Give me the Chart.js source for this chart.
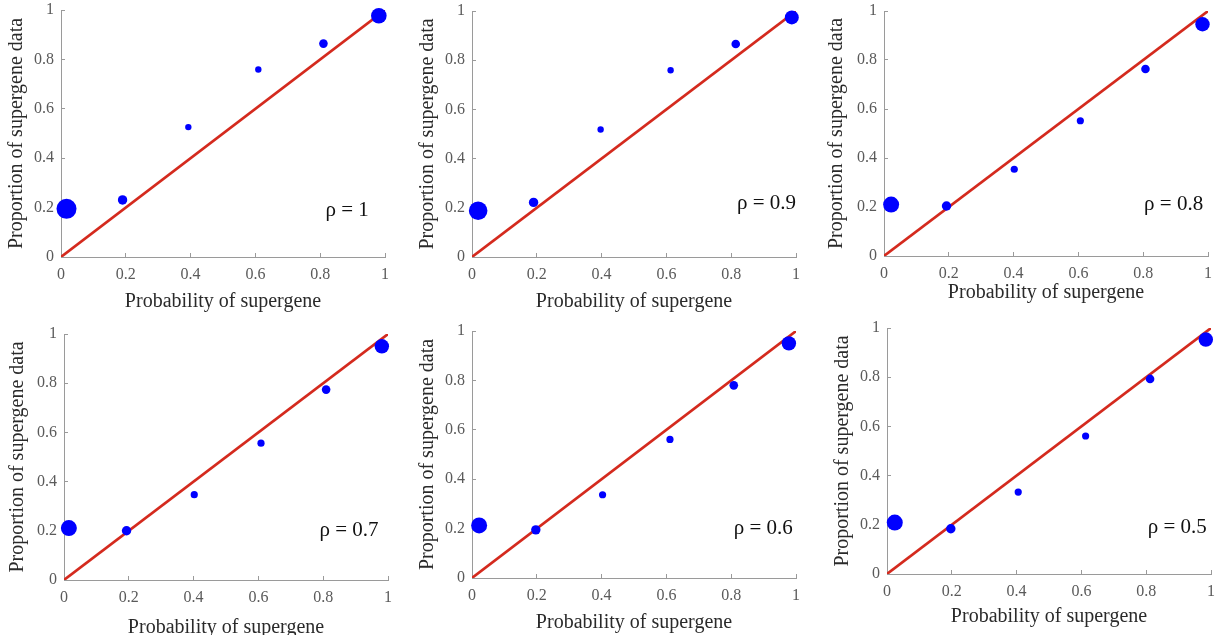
<!DOCTYPE html>
<html>
<head>
<meta charset="utf-8">
<script src="https://cdn.jsdelivr.net/npm/chart.js@4.4.0/dist/chart.umd.min.js"></script>
<style>
html, body { margin: 0; padding: 0; background: #fff; width: 1225px; height: 635px; overflow: hidden; position: relative; }
canvas { position: absolute; }
</style>
</head>
<body>
<script>
// shared tick marks on both axes
const tickValues = [0, 0.2, 0.4, 0.6, 0.8, 1];
const tickLabels = ['0', '0.2', '0.4', '0.6', '0.8', '1'];
const rhoLabels = ['ρ = 1', 'ρ = 0.9', 'ρ = 0.8', 'ρ = 0.7', 'ρ = 0.6', 'ρ = 0.5'];

// diagonal y = x
const diagX = [0, 1];
const diagY = [0, 1];

// probability of supergene (x) vs proportion of supergene data (y)
const prob1 = [0.017, 0.19, 0.393, 0.609, 0.81, 0.981];
const prop1 = [0.195, 0.231, 0.526, 0.759, 0.864, 0.977];
const prob2 = [0.019, 0.19, 0.397, 0.613, 0.814, 0.987];
const prop2 = [0.188, 0.222, 0.518, 0.759, 0.866, 0.974];
const prob3 = [0.022, 0.193, 0.402, 0.606, 0.807, 0.983];
const prop3 = [0.21, 0.204, 0.354, 0.552, 0.763, 0.946];
const prob4 = [0.015, 0.193, 0.402, 0.608, 0.809, 0.981];
const prop4 = [0.211, 0.2, 0.347, 0.556, 0.774, 0.95];
const prob5 = [0.022, 0.197, 0.403, 0.611, 0.808, 0.978];
const prop5 = [0.213, 0.195, 0.337, 0.561, 0.78, 0.95];
const prob6 = [0.024, 0.197, 0.405, 0.613, 0.812, 0.984];
const prop6 = [0.209, 0.184, 0.333, 0.561, 0.793, 0.953];

// marker radius per point
const radius1 = [10, 4.7, 3.2, 3.2, 4.3, 7.8];
const radius2 = [9.3, 4.7, 3.2, 3.2, 4.3, 7];
const radius3 = [8, 4.7, 3.6, 3.6, 4.3, 7.2];
const radius4 = [8, 4.7, 3.6, 3.6, 4.3, 7.2];
const radius5 = [8, 4.7, 3.6, 3.6, 4.3, 7.2];
const radius6 = [8, 4.7, 3.6, 3.6, 4.3, 7.2];

const allProb = [prob1, prob2, prob3, prob4, prob5, prob6];
const allProp = [prop1, prop2, prop3, prop4, prop5, prop6];
const allRadius = [radius1, radius2, radius3, radius4, radius5, radius6];

// where each plot area sits on the page, and title offsets from the axes
const panels = [
    { left: 61, top: 10, right: 385, bottom: 257, yOff: 44, xOff: 45, rhoX: 0.95, rhoY: 0.19 },
    { left: 472, top: 11, right: 796, bottom: 257, yOff: 44, xOff: 45, rhoX: 1.0, rhoY: 0.218 },
    { left: 884, top: 11, right: 1208, bottom: 256, yOff: 47, xOff: 37, rhoX: 0.985, rhoY: 0.211 },
    { left: 64, top: 334, right: 388, bottom: 580, yOff: 46, xOff: 48, rhoX: 0.971, rhoY: 0.2 },
    { left: 472, top: 331, right: 796, bottom: 578, yOff: 44, xOff: 45, rhoX: 0.99, rhoY: 0.202 },
    { left: 887, top: 328, right: 1211, bottom: 574, yOff: 44, xOff: 43, rhoX: 0.987, rhoY: 0.191 }
];

const serif = "'Liberation Serif', 'Times New Roman', serif";
const padTop = 12;
const padRight = 14;

// rho text in the lower right of each panel
const rhoPlugin = {
    id: 'rhoText',
    afterDatasetsDraw(chart) {
        const i = chart.options.plugins.rhoText.index;
        const p = panels[i];
        const ctx = chart.ctx;
        ctx.save();
        ctx.font = '21px ' + serif;
        ctx.fillStyle = '#111';
        ctx.textAlign = 'right';
        ctx.textBaseline = 'middle';
        ctx.fillText(rhoLabels[i], chart.scales.x.getPixelForValue(p.rhoX), chart.scales.y.getPixelForValue(p.rhoY));
        ctx.restore();
    }
};

function makeAxis(title, size, horizontal) {
    return {
        type: 'linear',
        min: 0,
        max: 1,
        afterBuildTicks: function(scale) {
            scale.ticks = tickValues.map(v => ({ value: v }));
        },
        afterFit: function(scale) {
            if (scale.isHorizontal()) scale.height = size;
            else scale.width = size;
            // keep the plot area fixed; label overflow is covered by the canvas margins
            scale.paddingTop = 0;
            scale.paddingBottom = 0;
            scale.paddingLeft = 0;
            scale.paddingRight = 0;
        },
        // short inward tick marks, no grid lines
        grid: { display: true, drawOnChartArea: false, drawTicks: true, tickLength: -4, color: '#9a9a9a' },
        border: { display: true, color: '#9a9a9a', width: 1 },
        ticks: {
            color: '#5a5a5a',
            font: { family: serif, size: 16 },
            padding: horizontal ? 12 : 11,
            maxRotation: 0,
            autoSkip: false,
            callback: function(value) {
                const k = tickValues.indexOf(value);
                return k >= 0 ? tickLabels[k] : '';
            }
        },
        title: {
            display: true,
            text: title,
            color: '#2a2a2a',
            font: { family: serif, size: 20 },
            padding: { top: 4, bottom: 4 }
        }
    };
}

panels.forEach(function(p, i) {
    const yW = p.yOff + 16;
    const xH = p.xOff + 16;
    const canvas = document.createElement('canvas');
    const w = yW + (p.right - p.left) + padRight;
    const h = padTop + (p.bottom - p.top) + xH;
    canvas.width = w;
    canvas.height = h;
    canvas.style.left = (p.left - yW) + 'px';
    canvas.style.top = (p.top - padTop) + 'px';
    canvas.style.width = w + 'px';
    canvas.style.height = h + 'px';
    document.body.appendChild(canvas);

    const points = allProb[i].map((x, k) => ({ x: x, y: allProp[i][k] }));
    const line = diagX.map((x, k) => ({ x: x, y: diagY[k] }));

    new Chart(canvas.getContext('2d'), {
        type: 'scatter',
        data: {
            datasets: [
                {
                    label: 'data',
                    data: points,
                    pointRadius: allRadius[i],
                    pointBackgroundColor: '#0000ff',
                    pointBorderWidth: 0,
                    clip: false,
                    order: 0
                },
                {
                    label: 'y = x',
                    data: line,
                    showLine: true,
                    borderColor: '#d42a1e',
                    borderWidth: 2.6,
                    pointRadius: 0,
                    order: 1
                }
            ]
        },
        options: {
            responsive: false,
            animation: false,
            devicePixelRatio: 1,
            layout: { autoPadding: false, padding: { top: padTop, right: padRight, left: 0, bottom: 0 } },
            scales: {
                x: makeAxis('Probability of supergene', xH, true),
                y: makeAxis('Proportion of supergene data', yW, false)
            },
            plugins: {
                legend: { display: false },
                tooltip: { enabled: false },
                rhoText: { index: i }
            }
        },
        plugins: [rhoPlugin]
    });
});
</script>
</body>
</html>
